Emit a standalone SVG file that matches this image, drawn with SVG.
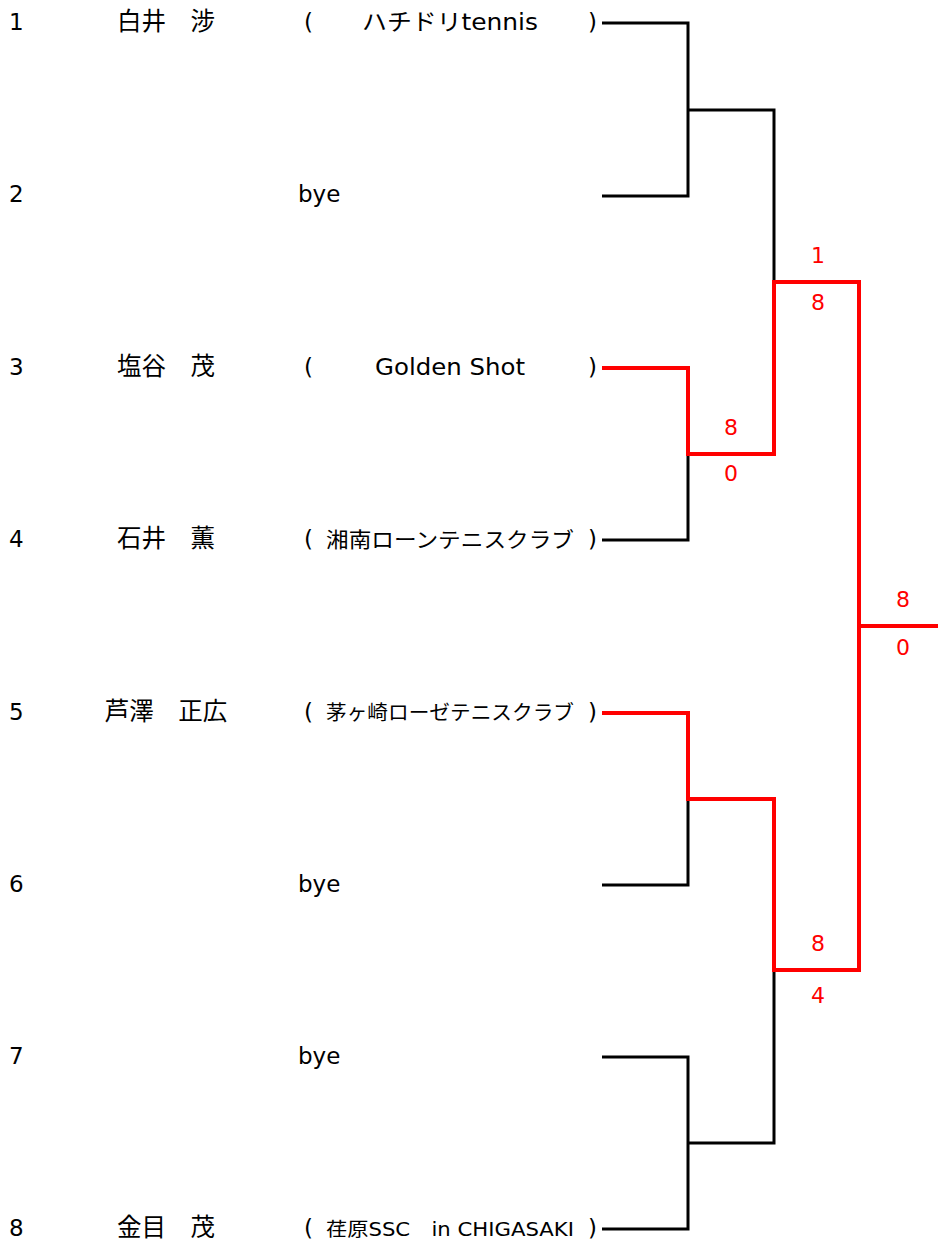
<svg xmlns="http://www.w3.org/2000/svg" width="938" height="1245" viewBox="0 0 938 1245">
<style>
text{font-family:"DejaVu Sans","Noto Sans CJK JP",sans-serif;font-size:23px;fill:#000}
.name{text-anchor:middle;font-size:24.5px}
.club{text-anchor:middle}
.sc{fill:#ff0000;text-anchor:middle;font-size:22px}
.b{fill:none;stroke:#000;stroke-width:3}
.r{fill:none;stroke:#ff0000;stroke-width:4}
</style>
<rect width="938" height="1245" fill="#fff"/>
<g id="connectors">
<path class="b" d="M602,23H688V196H602M688,110H774V282"/>
<path class="b" d="M602,540H688V453"/>
<path class="b" d="M602,885H688V798"/>
<path class="b" d="M602,1057H688V1229H602M688,1143H774V970"/>
<path class="r" d="M602,368H688V454H774V282H859V626H938"/>
<path class="r" d="M602,713H688V799H774V970H859V626"/>
</g>
<g id="p1"><text x="9" y="30">1</text><text class="name" x="166" y="30">白井　涉</text><text x="304" y="30">(</text><text class="club" x="450" y="30" textLength="176" lengthAdjust="spacingAndGlyphs">ハチドリtennis</text><text x="588" y="30">)</text></g>
<g id="p2"><text x="9" y="202">2</text><text x="298" y="202">bye</text></g>
<g id="p3"><text x="9" y="375">3</text><text class="name" x="166" y="375">塩谷　茂</text><text x="304" y="375">(</text><text class="club" x="450" y="375" textLength="150" lengthAdjust="spacingAndGlyphs">Golden Shot</text><text x="588" y="375">)</text></g>
<g id="p4"><text x="9" y="547">4</text><text class="name" x="166" y="547">石井　薫</text><text x="304" y="547">(</text><text class="club" x="450" y="547" style="font-size:21px" textLength="248" lengthAdjust="spacingAndGlyphs">湘南ローンテニスクラブ</text><text x="588" y="547">)</text></g>
<g id="p5"><text x="9" y="720">5</text><text class="name" x="166" y="720">芦澤　正広</text><text x="304" y="720">(</text><text class="club" x="450" y="720" style="font-size:20px" textLength="248" lengthAdjust="spacingAndGlyphs">茅ヶ崎ローゼテニスクラブ</text><text x="588" y="720">)</text></g>
<g id="p6"><text x="9" y="892">6</text><text x="298" y="892">bye</text></g>
<g id="p7"><text x="9" y="1064">7</text><text x="298" y="1064">bye</text></g>
<g id="p8"><text x="9" y="1236">8</text><text class="name" x="166" y="1236">金目　茂</text><text x="304" y="1236">(</text><text class="club" x="450" y="1236" style="font-size:19px" textLength="248" lengthAdjust="spacingAndGlyphs">荏原SSC　in CHIGASAKI</text><text x="588" y="1236">)</text></g>
<g id="scores">
<text class="sc" x="818" y="263">1</text><text class="sc" x="818" y="310">8</text>
<text class="sc" x="731" y="435">8</text><text class="sc" x="731" y="481">0</text>
<text class="sc" x="903" y="607">8</text><text class="sc" x="903" y="655">0</text>
<text class="sc" x="818" y="951">8</text><text class="sc" x="818" y="1003">4</text>
</g>
</svg>
